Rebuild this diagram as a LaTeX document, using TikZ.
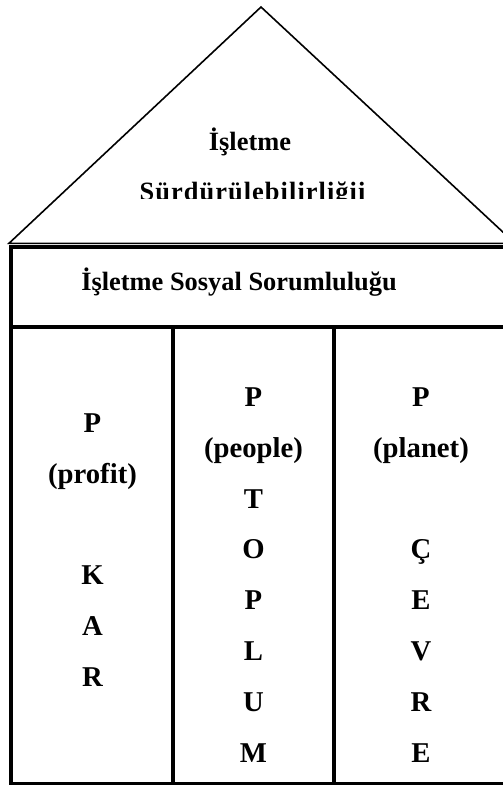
\documentclass[tikz,border=0pt]{standalone}
\usepackage{fontspec}
\setmainfont{Liberation Serif}
\begin{document}
\begin{tikzpicture}[x=1pt,y=-1pt,
  lbl/.style={font=\fontsize{26.4}{30}\selectfont\bfseries, inner sep=0pt, anchor=base},
  col/.style={lbl, font=\fontsize{28.7}{32}\selectfont\bfseries},
  roofline/.style={line width=1.6pt, line join=miter},
  wall/.style={line width=3.9pt}]
\clip (0,0) rectangle (503,785);
% roof
\coordinate (apex) at (261,7);
\coordinate (bl) at (9,243.3);
\coordinate (br) at (515,243.3);
\draw[roofline] (bl) -- (apex) -- (br) -- cycle;
% building
\coordinate (tl) at (11,247);
\coordinate (tr) at (530,247);
\coordinate (hl) at (11,327);
\coordinate (hr) at (530,327);
\coordinate (bbl) at (11,783.5);
\coordinate (bbr) at (530,783.5);
\coordinate (d1t) at (173,327);
\coordinate (d1b) at (173,783.5);
\coordinate (d2t) at (334,327);
\coordinate (d2b) at (334,783.5);
\draw[wall] (tr) -- (tl) -- (bbl) -- (bbr);
\draw[wall] (hl) -- (hr);
\draw[wall] (d1t) -- (d1b);
\draw[wall] (d2t) -- (d2b);
% roof text
\node[lbl] (r1) at (250,150.5) {İşletme};
\begin{scope}
\clip (0,0) rectangle (503,198.5);
\node[lbl, font=\fontsize{26.4}{30}\selectfont\bfseries\addfontfeature{LetterSpace=4}] (r2) at (252.5,200) {Sürdürülebilirliğii};
\end{scope}
% header
\node[lbl] (hdr) at (239,290.7) {İşletme Sosyal Sorumluluğu};
% column 1
\node[col] (a1) at (92.5,432.5) {P};
\node[col] (a2) at (92.5,483.3) {(profit)};
\node[col] (a3) at (92.5,584.9) {K};
\node[col] (a4) at (92.5,635.7) {A};
\node[col] (a5) at (92.5,686.5) {R};
% column 2
\node[col] (b1) at (253.5,406.5) {P};
\node[col] (b2) at (253.5,457.3) {(people)};
\node[col] (b3) at (253.5,508.1) {T};
\node[col] (b4) at (253.5,558.9) {O};
\node[col] (b5) at (253.5,609.7) {P};
\node[col] (b6) at (253.5,660.5) {L};
\node[col] (b7) at (253.5,711.3) {U};
\node[col] (b8) at (253.5,762.1) {M};
% column 3
\node[col] (c1) at (421,406.5) {P};
\node[col] (c2) at (421,457.3) {(planet)};
\node[col] (c4) at (421,558.9) {Ç};
\node[col] (c5) at (421,609.7) {E};
\node[col] (c6) at (421,660.5) {V};
\node[col] (c7) at (421,711.3) {R};
\node[col] (c8) at (421,762.1) {E};
\end{tikzpicture}
\end{document}
